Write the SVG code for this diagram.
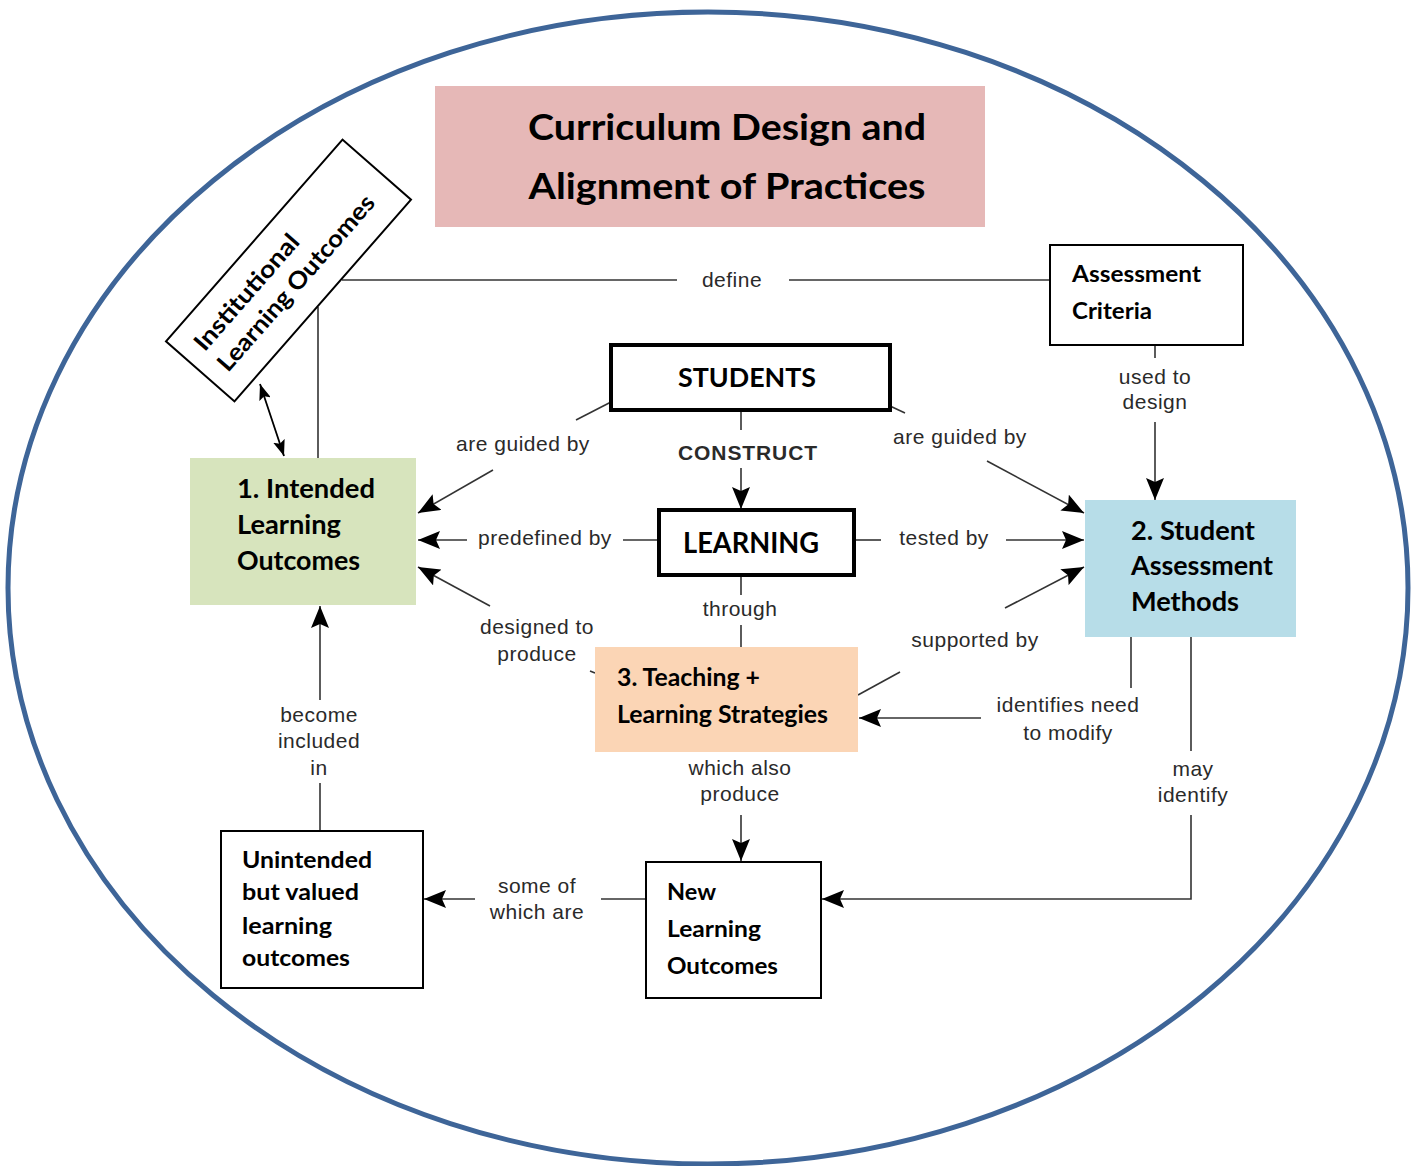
<svg xmlns="http://www.w3.org/2000/svg" width="1411" height="1166" viewBox="0 0 1411 1166">
<defs>
<marker id="ah" viewBox="0 0 22 18" refX="22" refY="9" markerWidth="22" markerHeight="18" markerUnits="userSpaceOnUse" orient="auto">
<path d="M0,0 L22,9 L0,18 L4,9 Z" fill="#000"/>
</marker>
<marker id="ahs" viewBox="0 0 16 12" refX="16" refY="6" markerWidth="16" markerHeight="12" markerUnits="userSpaceOnUse" orient="auto-start-reverse">
<path d="M0,0 L16,6 L0,12 L3,6 Z" fill="#000"/>
</marker>
<style>
.node{font-family:Lato,"Liberation Sans",sans-serif;font-weight:bold;fill:#000}
.lbl{font-family:"Liberation Sans",Arial,sans-serif;font-size:21px;letter-spacing:0.5px;fill:#2a2a2a;text-anchor:middle}
.ln{stroke:#333;stroke-width:1.6;fill:none}
.arr{stroke:#333;stroke-width:1.6;fill:none;marker-end:url(#ah)}
.box{fill:#fff;stroke:#000;stroke-width:2}
.boxb{fill:#fff;stroke:#000;stroke-width:4}
</style>
</defs>
<rect width="1411" height="1166" fill="#fff"/>
<ellipse cx="708" cy="588" rx="700" ry="576" fill="none" stroke="#3e6598" stroke-width="5"/>

<g id="title">
<rect x="435" y="86" width="550" height="141" fill="#e6b8b7"/>
<text class="node" x="727" y="140" font-size="36" text-anchor="middle" textLength="398" lengthAdjust="spacingAndGlyphs">Curriculum Design and</text>
<text class="node" x="727" y="199" font-size="36" text-anchor="middle" textLength="397" lengthAdjust="spacingAndGlyphs">Alignment of Practices</text>
</g>

<g id="connectors">
<!-- define -->
<line class="ln" x1="342" y1="280" x2="677" y2="280"/>
<text class="lbl" x="732" y="287">define</text>
<line class="ln" x1="789" y1="280" x2="1050" y2="280"/>
<line class="ln" x1="318" y1="307" x2="318" y2="458"/>
<!-- institutional double arrow -->
<line x1="260" y1="384" x2="284" y2="456" stroke="#000" stroke-width="1.8" marker-start="url(#ahs)" marker-end="url(#ahs)"/>
<!-- students -> ILO -->
<line class="ln" x1="611" y1="402" x2="576" y2="420"/>
<text class="lbl" x="523" y="451">are guided by</text>
<line class="arr" x1="493" y1="470" x2="418" y2="513"/>
<!-- learning -> ILO -->
<line class="ln" x1="659" y1="540" x2="623" y2="540"/>
<text class="lbl" x="545" y="545">predefined by</text>
<line class="arr" x1="467" y1="540" x2="418" y2="540"/>
<!-- teaching -> ILO -->
<line class="ln" x1="595" y1="673" x2="590" y2="671"/>
<text class="lbl" x="537" y="634">designed to</text>
<text class="lbl" x="537" y="661">produce</text>
<line class="arr" x1="490" y1="606" x2="418" y2="567"/>
<!-- students -> SAM -->
<line class="ln" x1="890" y1="406" x2="905" y2="413"/>
<text class="lbl" x="960" y="444">are guided by</text>
<line class="arr" x1="987" y1="461" x2="1084" y2="513"/>
<!-- learning -> SAM -->
<line class="ln" x1="854" y1="540" x2="881" y2="540"/>
<text class="lbl" x="944" y="545">tested by</text>
<line class="arr" x1="1006" y1="540" x2="1084" y2="540"/>
<!-- teaching -> SAM -->
<line class="ln" x1="858" y1="695" x2="900" y2="672"/>
<text class="lbl" x="975" y="647">supported by</text>
<line class="arr" x1="1005" y1="608" x2="1084" y2="567"/>
<!-- criteria -> SAM -->
<line class="ln" x1="1155" y1="345" x2="1155" y2="358"/>
<text class="lbl" x="1155" y="384">used to</text>
<text class="lbl" x="1155" y="409">design</text>
<line class="arr" x1="1155" y1="422" x2="1155" y2="500"/>
<!-- SAM -> teaching -->
<line class="ln" x1="1131" y1="637" x2="1131" y2="688"/>
<text class="lbl" x="1068" y="712">identifies need</text>
<text class="lbl" x="1068" y="740">to modify</text>
<line class="arr" x1="981" y1="718" x2="859" y2="718"/>
<!-- SAM -> new LO -->
<line class="ln" x1="1191" y1="637" x2="1191" y2="751"/>
<text class="lbl" x="1193" y="776">may</text>
<text class="lbl" x="1193" y="802">identify</text>
<polyline class="arr" points="1191,815 1191,899 822,899"/>
<!-- students -> learning -->
<line class="ln" x1="741" y1="410" x2="741" y2="430"/>
<text class="lbl" x="748" y="460" font-weight="bold" font-size="22" style="letter-spacing:0.9px">CONSTRUCT</text>
<line class="arr" x1="741" y1="468" x2="741" y2="509"/>
<!-- learning -> teaching -->
<line class="ln" x1="741" y1="575" x2="741" y2="595"/>
<text class="lbl" x="740" y="616">through</text>
<line class="ln" x1="741" y1="625" x2="741" y2="647"/>
<!-- teaching -> new LO -->
<text class="lbl" x="740" y="775">which also</text>
<text class="lbl" x="740" y="801">produce</text>
<line class="arr" x1="741" y1="815" x2="741" y2="861"/>
<!-- new LO -> unintended -->
<line class="ln" x1="646" y1="899" x2="601" y2="899"/>
<text class="lbl" x="537" y="893">some of</text>
<text class="lbl" x="537" y="919">which are</text>
<line class="arr" x1="475" y1="899" x2="424" y2="899"/>
<!-- unintended -> ILO -->
<line class="ln" x1="320" y1="831" x2="320" y2="783"/>
<text class="lbl" x="319" y="722">become</text>
<text class="lbl" x="319" y="748">included</text>
<text class="lbl" x="319" y="775">in</text>
<line class="arr" x1="320" y1="700" x2="320" y2="606"/>
</g>

<g id="institutional" transform="translate(288.5,270.5) rotate(-48.8)">
<rect x="-134" y="-45.5" width="268" height="91" class="box"/>
<text class="node" x="-117" y="-9" font-size="24" textLength="146" lengthAdjust="spacingAndGlyphs">Institutional</text>
<text class="node" x="-117" y="22" font-size="24" textLength="225" lengthAdjust="spacingAndGlyphs">Learning Outcomes</text>
</g>

<g id="criteria">
<rect x="1050" y="245" width="193" height="100" class="box"/>
<text class="node" x="1072" y="282" font-size="23" textLength="129" lengthAdjust="spacingAndGlyphs">Assessment</text>
<text class="node" x="1072" y="319" font-size="23" textLength="80" lengthAdjust="spacingAndGlyphs">Criteria</text>
</g>

<g id="students">
<rect x="611" y="345" width="279" height="65" class="boxb"/>
<text class="node" x="747" y="387" font-size="26" text-anchor="middle" textLength="138" lengthAdjust="spacingAndGlyphs">STUDENTS</text>
</g>

<g id="learning">
<rect x="659" y="510" width="195" height="65" class="boxb"/>
<text class="node" x="751" y="553" font-size="28" text-anchor="middle" textLength="136" lengthAdjust="spacingAndGlyphs">LEARNING</text>
</g>

<g id="ilo">
<rect x="190" y="458" width="226" height="147" fill="#d7e4bd"/>
<text class="node" x="237" y="498" font-size="26" textLength="138" lengthAdjust="spacingAndGlyphs">1. Intended</text>
<text class="node" x="237" y="534" font-size="26" textLength="104" lengthAdjust="spacingAndGlyphs">Learning</text>
<text class="node" x="237" y="570" font-size="26" textLength="123" lengthAdjust="spacingAndGlyphs">Outcomes</text>
</g>

<g id="sam">
<rect x="1085" y="500" width="211" height="137" fill="#b7dde8"/>
<text class="node" x="1131" y="540" font-size="26" textLength="124" lengthAdjust="spacingAndGlyphs">2. Student</text>
<text class="node" x="1131" y="575" font-size="26" textLength="142" lengthAdjust="spacingAndGlyphs">Assessment</text>
<text class="node" x="1131" y="611" font-size="26" textLength="108" lengthAdjust="spacingAndGlyphs">Methods</text>
</g>

<g id="teaching">
<rect x="595" y="647" width="263" height="105" fill="#fbd5b5"/>
<text class="node" x="617" y="686" font-size="24" textLength="143" lengthAdjust="spacingAndGlyphs">3. Teaching +</text>
<text class="node" x="617" y="723" font-size="24" textLength="211" lengthAdjust="spacingAndGlyphs">Learning Strategies</text>
</g>

<g id="newlo">
<rect x="646" y="862" width="175" height="136" class="box"/>
<text class="node" x="667" y="900" font-size="23" textLength="49" lengthAdjust="spacingAndGlyphs">New</text>
<text class="node" x="667" y="937" font-size="23" textLength="94" lengthAdjust="spacingAndGlyphs">Learning</text>
<text class="node" x="667" y="974" font-size="23" textLength="111" lengthAdjust="spacingAndGlyphs">Outcomes</text>
</g>

<g id="unintended">
<rect x="221" y="831" width="202" height="157" class="box"/>
<text class="node" x="242" y="868" font-size="23" textLength="130" lengthAdjust="spacingAndGlyphs">Unintended</text>
<text class="node" x="242" y="900" font-size="23" textLength="117" lengthAdjust="spacingAndGlyphs">but valued</text>
<text class="node" x="242" y="934" font-size="23" textLength="90" lengthAdjust="spacingAndGlyphs">learning</text>
<text class="node" x="242" y="966" font-size="23" textLength="108" lengthAdjust="spacingAndGlyphs">outcomes</text>
</g>
</svg>
